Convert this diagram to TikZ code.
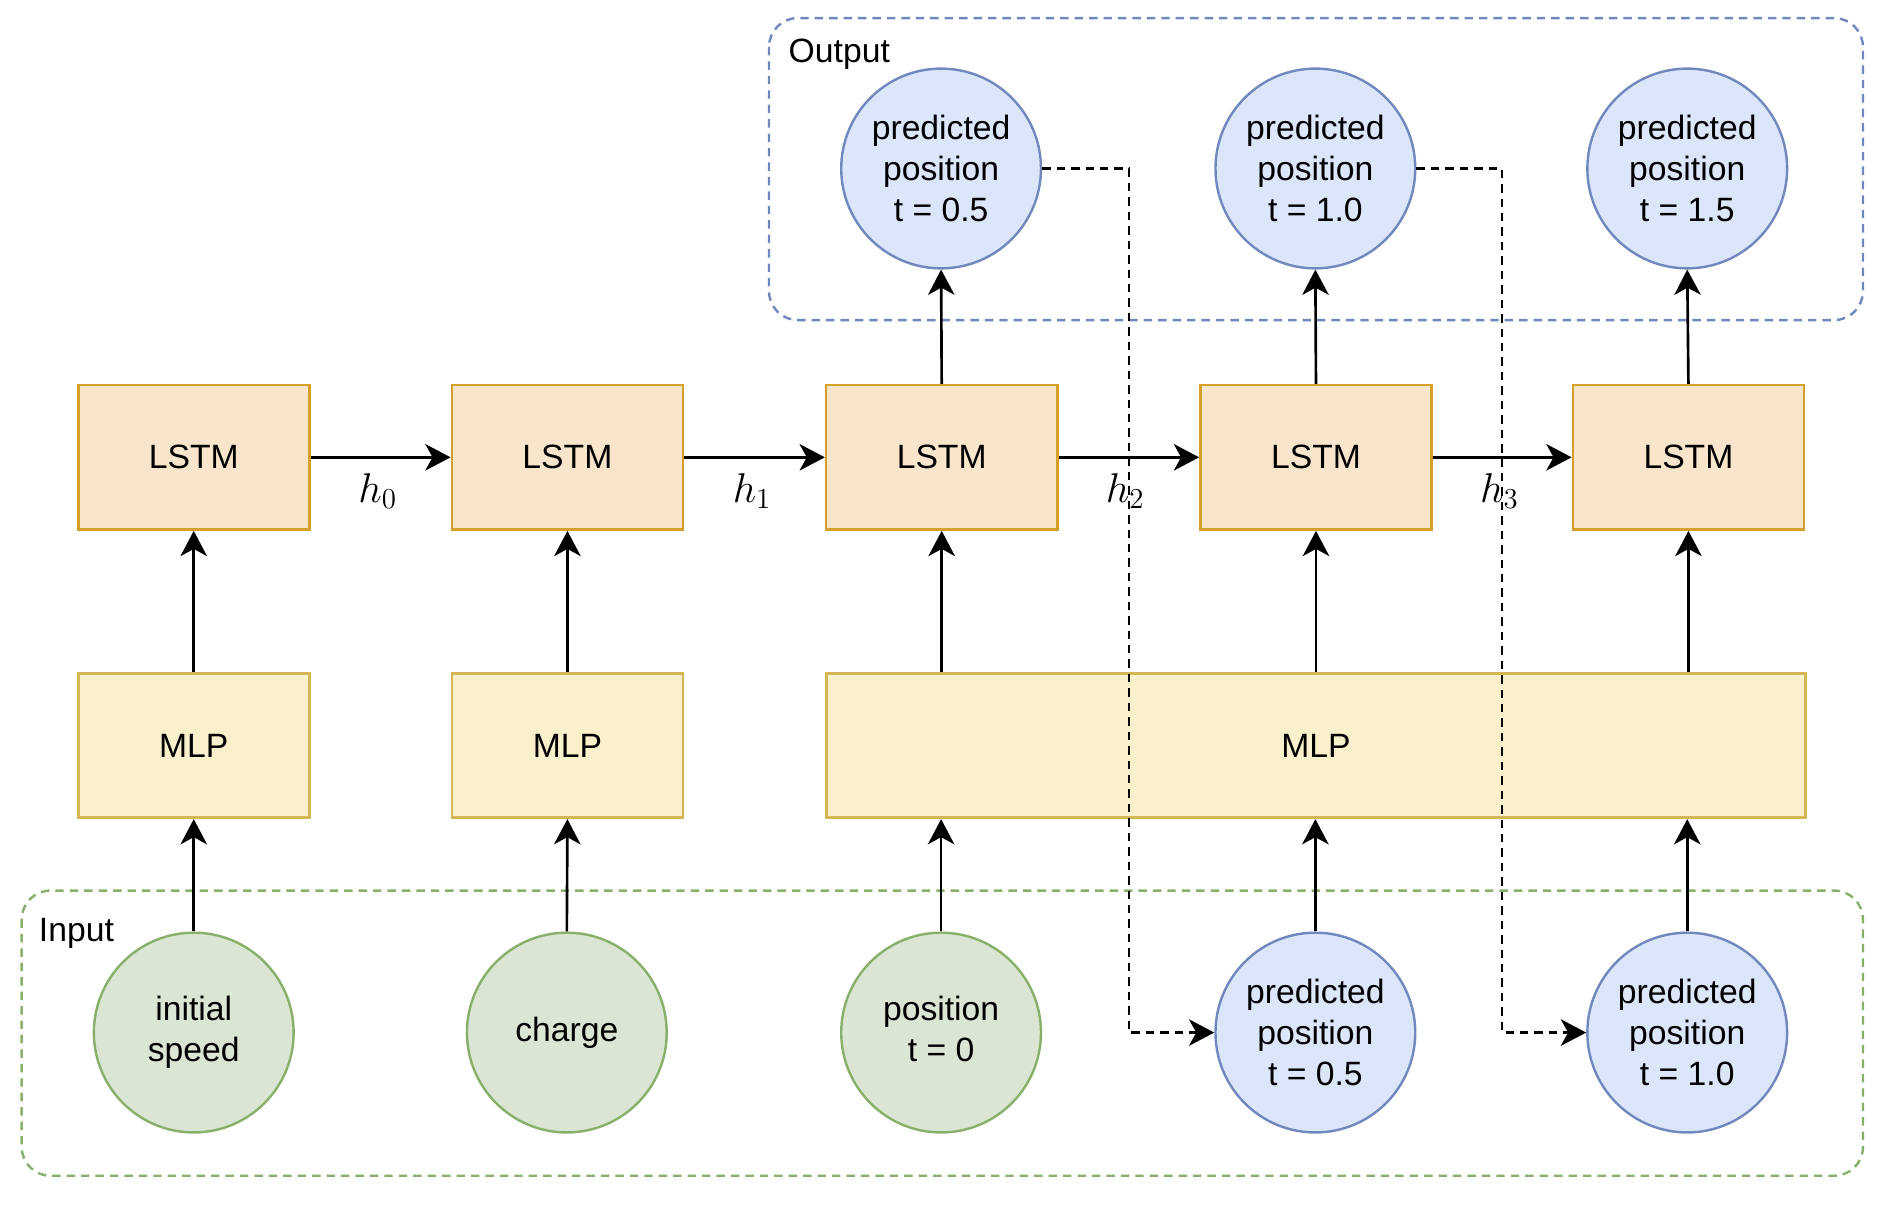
\documentclass[tikz,border=0pt]{standalone}
\usepackage{fontspec}
\setmainfont{Liberation Sans}
\usetikzlibrary{arrows.meta}
\definecolor{lstmF}{HTML}{F8E5CC}
\definecolor{lstmD}{HTML}{D4A02A}
\definecolor{mlpF}{HTML}{FAF0CC}
\definecolor{mlpD}{HTML}{D5B655}
\definecolor{grnF}{HTML}{DAE6D3}
\definecolor{grnD}{HTML}{88B06A}
\definecolor{bluF}{HTML}{DCE6FA}
\definecolor{bluD}{HTML}{7088BE}
\begin{document}
\begin{tikzpicture}[x=0.5pt,y=-0.5pt,
  every node/.style={font=\fontsize{14}{17}\selectfont, align=center},
  lstmbox/.style={rectangle, draw=lstmD, fill=lstmF, line width=1.1pt, minimum width=96pt, minimum height=60pt, inner sep=0pt},
  mlpbox/.style={rectangle, draw=mlpD, fill=mlpF, line width=1.1pt, minimum height=60pt, inner sep=0pt},
  incirc/.style={circle, draw=grnD, fill=grnF, line width=1pt, minimum size=83pt, inner sep=0pt},
  outcirc/.style={circle, draw=bluD, fill=bluF, line width=1pt, minimum size=83pt, inner sep=0pt},
  arr/.style={line width=1.1pt, -{Stealth[length=10.5pt,width=11pt,inset=3pt]}},
  dasharr/.style={line width=1.1pt, dash pattern=on 3.5pt off 2.5pt, -{Stealth[length=10.5pt,width=11pt,inset=3pt]}},
  group/.style={rounded corners=12pt, line width=1pt, dash pattern=on 3.5pt off 2.5pt},
  hlab/.style={font=\fontsize{17}{20}\selectfont, inner sep=0pt}
]
\useasboundingbox (0,0) rectangle (1568,1001);

% containers
\draw[group, draw=bluD] (639,15) rectangle (1548,266);
\node[anchor=west, inner sep=0pt] (outlab) at (655,45) {Output};
\draw[group, draw=grnD] (18,740) rectangle (1548,977);
\node[anchor=west, inner sep=0pt] (inlab) at (32,776) {Input};

% LSTM row
\node[lstmbox] (l1) at (161,380) {LSTM};
\node[lstmbox] (l2) at (471.5,380) {LSTM};
\node[lstmbox] (l3) at (782.5,380) {LSTM};
\node[lstmbox] (l4) at (1093.5,380) {LSTM};
\node[lstmbox] (l5) at (1403,380) {LSTM};

% MLP row
\node[mlpbox, minimum width=96pt] (m1) at (161,619.5) {MLP};
\node[mlpbox, minimum width=96pt] (m2) at (471.5,619.5) {MLP};
\node[mlpbox, minimum width=406.5pt] (m3) at (1093.5,619.5) {MLP};

% output circles
\node[outcirc] (o1) at (782,140) {predicted\\position\\t = 0.5};
\node[outcirc] (o2) at (1093,140) {predicted\\position\\t = 1.0};
\node[outcirc] (o3) at (1402,140) {predicted\\position\\t = 1.5};

% input circles
\node[incirc] (i1) at (161,858) {\raisebox{-2pt}{\begin{tabular}{@{}c@{}}initial\\speed\end{tabular}}};
\node[incirc] (i2) at (471,858) {charge};
\node[incirc] (i3) at (782,858) {\raisebox{-2pt}{\begin{tabular}{@{}c@{}}position\\t = 0\end{tabular}}};
\node[outcirc] (i4) at (1093,858) {predicted\\position\\t = 0.5};
\node[outcirc] (i5) at (1402,858) {predicted\\position\\t = 1.0};

% inputs to MLP
\draw[arr] (i1.north) -- (m1.south);
\draw[arr] (i2.north) -- (m2.south);
\draw[arr] (i3.north) -- (i3.north |- m3.south);
\draw[arr] (i4.north) -- (i4.north |- m3.south);
\draw[arr] (i5.north) -- (i5.north |- m3.south);

% MLP to LSTM
\draw[arr] (m1.north) -- (l1.south);
\draw[arr] (m2.north) -- (l2.south);
\draw[arr] (l3.south |- m3.north) -- (l3.south);
\draw[arr] (l4.south |- m3.north) -- (l4.south);
\draw[arr] (l5.south |- m3.north) -- (l5.south);

% LSTM to outputs
\draw[arr] (l3.north) -- (o1.south);
\draw[arr] (l4.north) -- (o2.south);
\draw[arr] (l5.north) -- (o3.south);

% hidden states
\draw[arr] (l1.east) -- (l2.west);
\draw[arr] (l2.east) -- (l3.west);
\draw[arr] (l3.east) -- (l4.west);
\draw[arr] (l4.east) -- (l5.west);
\node[hlab] (h0) at (314,408) {$h_0$};
\node[hlab] (h1) at (625,408) {$h_1$};
\node[hlab] (h2) at (935,408) {$h_2$};
\node[hlab] (h3) at (1246,408) {$h_3$};

% feedback dashed
\coordinate (d1) at (938,0);
\coordinate (d2) at (1248,0);
\draw[dasharr] (o1.east) -- (o1.east -| d1) |- (i4.west);
\draw[dasharr] (o2.east) -- (o2.east -| d2) |- (i5.west);
\end{tikzpicture}
\end{document}
